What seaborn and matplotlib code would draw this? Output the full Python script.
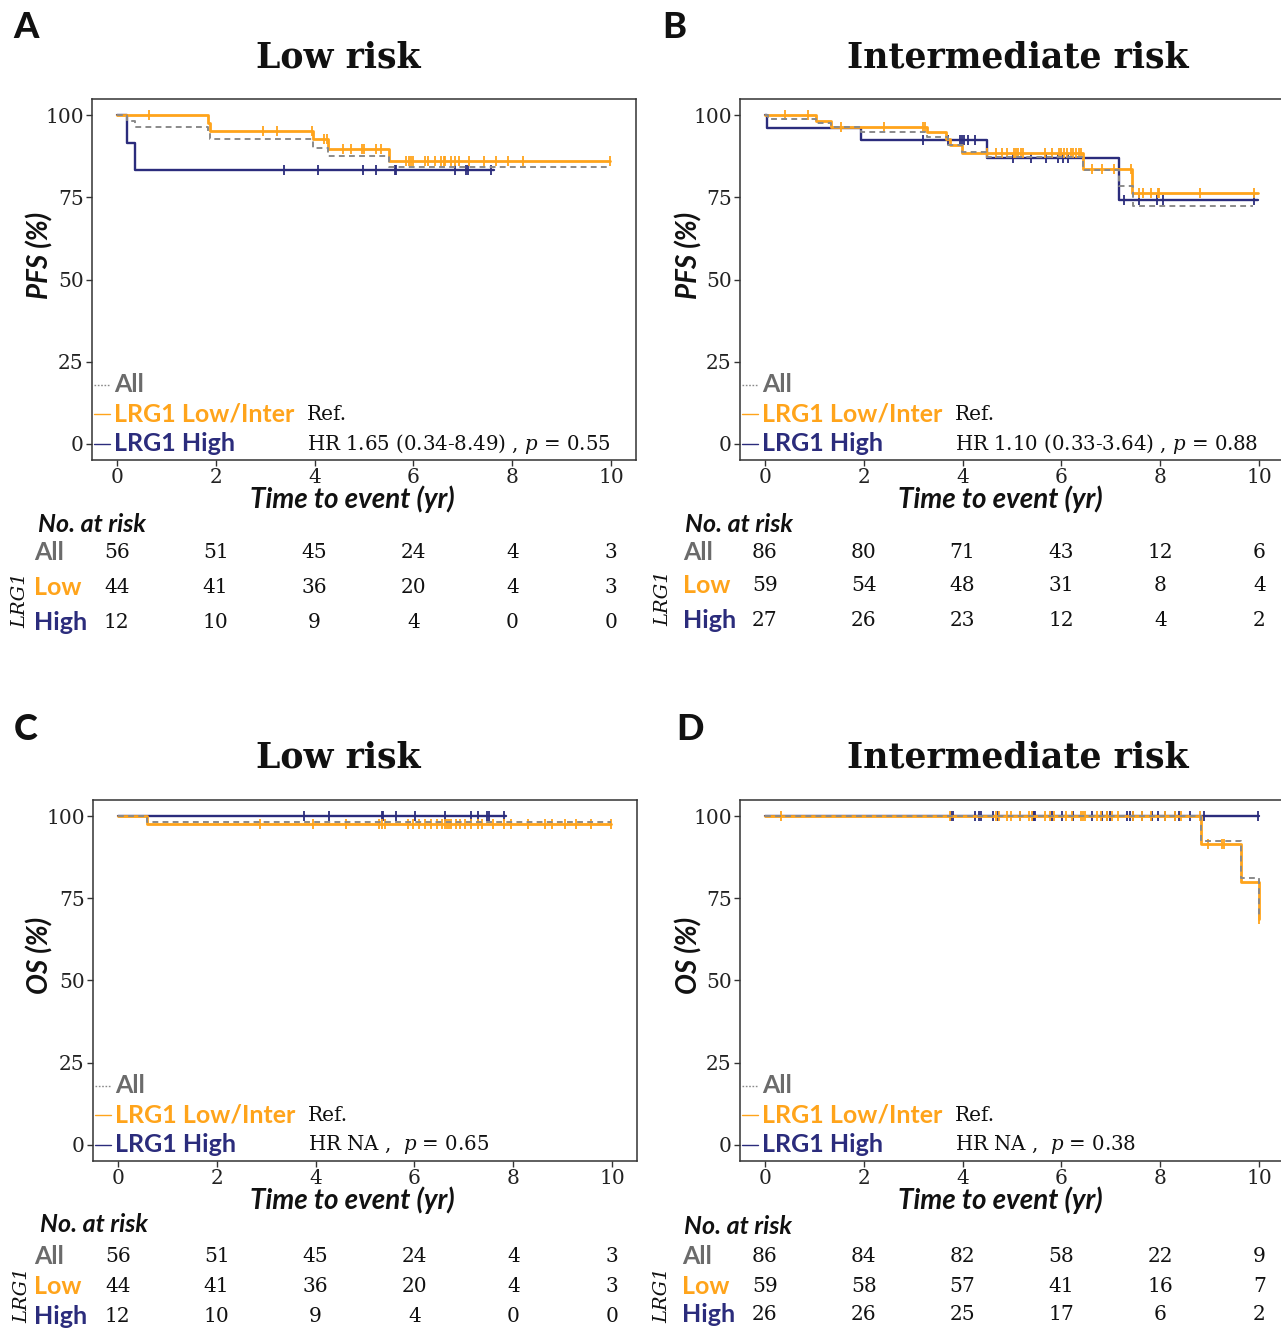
import numpy as np
import matplotlib
matplotlib.use("Agg")
import matplotlib.pyplot as plt
import matplotlib.transforms as mtransforms
import seaborn as sns

sns.set_theme(style="white")
plt.rcParams['font.family'] = ['DejaVu Serif']
plt.rcParams['mathtext.fontset'] = 'custom'
plt.rcParams['mathtext.rm'] = 'DejaVu Serif'
plt.rcParams['mathtext.it'] = 'DejaVu Serif:italic'

ORANGE = "#FFA41B"
NAVY = "#2B2C7C"
GRAY = "#8A8A8A"
GRAY_TXT = "#6B6B6B"
SANS = "Lato"
W, H = 1281, 1328

# ---------------- data ----------------
# A: PFS, low risk
a_all_t = [0, 0.20, 0.37, 1.85, 1.89, 3.96, 4.28, 5.50, 10.0]
a_all_s = [100, 98.2, 96.4, 94.6, 92.7, 90.2, 87.7, 84.3, 84.3]
a_low_t = [0, 1.85, 1.89, 3.96, 4.28, 5.50, 9.98]
a_low_s = [100, 97.7, 95.4, 92.8, 89.8, 86.0, 86.0]
a_high_t = [0, 0.20, 0.37, 7.62]
a_high_s = [100, 91.7, 83.3, 83.3]
a_low_cens = [0.66, 2.95, 3.24, 3.94, 4.20, 4.25, 4.58, 4.73, 4.95, 5.00, 5.25, 5.35,
              5.85, 5.91, 5.96, 6.00, 6.23, 6.29, 6.44, 6.56, 6.61, 6.63, 6.76, 6.85,
              6.93, 7.12, 7.42, 7.67, 7.92, 8.21, 9.98]
a_high_cens = [3.38, 4.06, 4.97, 5.25, 5.62, 5.64, 6.85, 7.07, 7.10, 7.57]

# B: PFS, intermediate risk
b_all_t = [0, 0.06, 1.04, 1.35, 1.95, 3.28, 3.70, 3.98, 4.49, 6.44, 7.16, 7.45, 9.88]
b_all_s = [100, 98.8, 97.7, 96.5, 94.8, 93.4, 90.9, 88.9, 87.4, 83.3, 78.5, 72.5, 72.5]
b_low_t = [0, 1.04, 1.35, 3.28, 3.67, 3.74, 3.98, 6.44, 7.42, 9.98]
b_low_s = [100, 98.3, 96.6, 94.8, 92.8, 90.9, 88.6, 83.8, 76.4, 76.4]
b_high_t = [0, 0.05, 1.95, 4.49, 7.16, 9.98]
b_high_s = [100, 96.3, 92.6, 87.0, 74.3, 74.3]
b_low_cens = [0.41, 0.88, 1.54, 2.42, 3.21, 3.25, 4.49, 4.68, 4.79, 4.89, 5.04, 5.08,
              5.13, 5.19, 5.23, 5.67, 5.81, 5.96, 6.00, 6.05, 6.12, 6.19, 6.24, 6.30,
              6.35, 6.40, 6.61, 6.82, 7.07, 7.40, 7.56, 7.64, 7.81, 7.95, 7.98, 8.81, 9.89]
b_high_cens = [3.21, 3.70, 3.95, 3.98, 4.02, 4.12, 4.25, 5.02, 5.39, 5.68, 5.93, 6.03,
               6.14, 7.26, 7.56, 7.93, 8.06, 9.89]

# C: OS, low risk
c_all_t = [0, 0.60, 9.98]
c_all_s = [100, 98.2, 98.2]
c_low_t = [0, 0.60, 9.98]
c_low_s = [100, 97.7, 97.7]
c_high_t = [0, 7.85]
c_high_s = [100, 100]
c_low_cens = [2.88, 3.95, 4.61, 5.29, 5.35, 5.41, 5.87, 5.98, 6.09, 6.21, 6.34, 6.46,
              6.56, 6.62, 6.66, 6.69, 6.73, 6.83, 6.93, 7.03, 7.14, 7.28, 7.36, 7.59,
              7.81, 7.95, 8.30, 8.63, 8.79, 9.04, 9.27, 9.56, 9.98]
c_high_cens = [3.77, 4.28, 5.34, 5.36, 5.63, 6.02, 6.61, 7.14, 7.28, 7.47, 7.51, 7.81]

# D: OS, intermediate risk
d_all_t = [0, 8.82, 9.64, 10.0]
d_all_s = [100, 92.4, 81.3, 70.0]
d_low_t = [0, 8.82, 9.64, 10.0]
d_low_s = [100, 91.6, 80.0, 68.8]
d_high_t = [0, 9.99]
d_high_s = [100, 100]
d_low_cens = [0.32, 3.74, 4.68, 4.74, 4.89, 4.98, 5.16, 5.35, 5.40, 5.67, 5.77, 5.84,
              6.09, 6.21, 6.40, 6.44, 6.47, 6.72, 6.79, 6.93, 7.03, 7.14, 7.45, 7.63,
              7.81, 8.09, 8.30, 8.42, 8.81, 8.96, 9.24, 9.29, 10.0]
d_high_cens = [3.77, 3.81, 4.26, 4.33, 4.37, 4.61, 4.72, 5.16, 5.42, 5.44, 5.47, 5.81,
               6.02, 6.23, 6.61, 6.82, 6.93, 6.98, 7.33, 7.38, 7.45, 7.63, 7.83, 7.95,
               8.09, 8.30, 8.37, 8.60, 8.88, 9.98]

risk_times = [0, 2, 4, 6, 8, 10]
a_risk_all = [56, 51, 45, 24, 4, 3]
a_risk_low = [44, 41, 36, 20, 4, 3]
a_risk_high = [12, 10, 9, 4, 0, 0]
b_risk_all = [86, 80, 71, 43, 12, 6]
b_risk_low = [59, 54, 48, 31, 8, 4]
b_risk_high = [27, 26, 23, 12, 4, 2]
c_risk_all = [56, 51, 45, 24, 4, 3]
c_risk_low = [44, 41, 36, 20, 4, 3]
c_risk_high = [12, 10, 9, 4, 0, 0]
d_risk_all = [86, 84, 82, 58, 22, 9]
d_risk_low = [59, 58, 57, 41, 16, 7]
d_risk_high = [26, 26, 25, 17, 6, 2]

a_hr = "HR 1.65 (0.34-8.49) , $\\it{p}$ = 0.55"
b_hr = "HR 1.10 (0.33-3.64) , $\\it{p}$ = 0.88"
c_hr = "HR NA ,  $\\it{p}$ = 0.65"
d_hr = "HR NA ,  $\\it{p}$ = 0.38"

fig = plt.figure(figsize=(W / 100, H / 100), dpi=100)


def fy(y):
    return 1 - y / H


def step_value(t, s, x):
    idx = np.searchsorted(np.asarray(t), x, side="right") - 1
    return np.asarray(s)[np.clip(idx, 0, len(s) - 1)]


def draw_panel(box, letter, title, ylab, curves, hr, risk, lay):
    left, top, right, bottom = box
    ax = fig.add_axes([left / W, 1 - bottom / H, (right - left) / W, (bottom - top) / H])
    (all_t, all_s), (lo_t, lo_s, lo_c), (hi_t, hi_s, hi_c) = curves

    sns.lineplot(x=hi_t, y=hi_s, drawstyle="steps-post", estimator=None, sort=False,
                 color=NAVY, linewidth=1.7, ax=ax)
    ax.plot(hi_c, step_value(hi_t, hi_s, hi_c), ls="none", marker="|", ms=7.5,
            mew=1.3, color=NAVY)
    sns.lineplot(x=lo_t, y=lo_s, drawstyle="steps-post", estimator=None, sort=False,
                 color=ORANGE, linewidth=2.0, ax=ax)
    ax.plot(lo_c, step_value(lo_t, lo_s, lo_c), ls="none", marker="|", ms=7.5,
            mew=1.3, color=ORANGE)
    sns.lineplot(x=all_t, y=all_s, drawstyle="steps-post", estimator=None, sort=False,
                 color=GRAY, linewidth=1.4, linestyle=(0, (3, 2.2)), ax=ax)

    ax.set_xlim(-0.5, 10.5)
    ax.set_ylim(-5, 105)
    ax.set_xticks([0, 2, 4, 6, 8, 10])
    ax.set_yticks([0, 25, 50, 75, 100])
    ax.tick_params(axis="both", direction="out", length=4, width=1, color="#333333",
                   labelsize=14.5, pad=2, labelcolor="#222222")
    ax.tick_params(axis="both", which="both", bottom=True, left=True)
    for sp in ax.spines.values():
        sp.set_color("#333333")
        sp.set_linewidth(1.1)
    ax.set_xlabel("")
    ax.set_ylabel("")

    # legend-like annotations
    keys = [(18, "All", GRAY_TXT, GRAY, (0, (1.2, 1.2))),
            (9, "LRG1 Low/Inter", ORANGE, ORANGE, "-"),
            (0, "LRG1 High", NAVY, NAVY, "-")]
    for yv, lab, tc, lc, ls in keys:
        ax.plot([-0.45, -0.13], [yv, yv], color=lc, lw=1.0, ls=ls, clip_on=False)
        ax.text(-0.06, yv, lab, color=tc, fontsize=18, fontweight="bold",
                family=SANS, va="center", ha="left")
    ax.text(3.85, 9, "Ref.", fontsize=14.5, color="#111111", va="center", ha="left")
    ax.text(3.85, 0, hr, fontsize=14.2, color="#111111", va="center", ha="left")

    # panel letter, title, axis labels
    fig.text(lay["letter"][0] / W, fy(lay["letter"][1]), letter, fontsize=26,
             fontweight="black", family=SANS, ha="center", va="center", color="#111111")
    fig.text(lay["title"][0] / W, fy(lay["title"][1]), title, fontsize=25,
             fontweight="bold", ha="center", va="center", color="#111111")
    fig.text(lay["ylab"][0] / W, fy(lay["ylab"][1]), ylab, fontsize=20, rotation=90,
             fontweight="bold", style="italic", family=SANS, ha="center", va="center",
             color="#111111")
    fig.text(lay["xlab"][0] / W, fy(lay["xlab"][1]), "Time to event (yr)", fontsize=20,
             fontweight="bold", style="italic", family=SANS, ha="center", va="center",
             color="#111111")

    # risk table
    fig.text(lay["nar"][0] / W, fy(lay["nar"][1]), "No. at risk", fontsize=18,
             fontweight="bold", style="italic", family=SANS, ha="left", va="center",
             color="#111111")
    trans = mtransforms.blended_transform_factory(ax.transData, fig.transFigure)
    row_names = [("All", GRAY_TXT), ("Low", ORANGE), ("High", NAVY)]
    for (name, col), yrow, vals in zip(row_names, lay["rows"], risk):
        fig.text(lay["rowx"] / W, fy(yrow), name, fontsize=18, fontweight="bold",
                 family=SANS, color=col, ha="left", va="center")
        for tt, v in zip(risk_times, vals):
            fig.text(tt, fy(yrow), str(v), transform=trans, fontsize=14.5,
                     ha="center", va="center", color="#111111")
    fig.text(lay["lrg"][0] / W, fy(lay["lrg"][1]), "LRG1", fontsize=14, style="italic",
             rotation=90, ha="center", va="center", color="#111111")
    return ax


draw_panel((92, 99, 636, 460), "A", "Low risk", "PFS (%)",
           [(a_all_t, a_all_s), (a_low_t, a_low_s, a_low_cens),
            (a_high_t, a_high_s, a_high_cens)], a_hr,
           [a_risk_all, a_risk_low, a_risk_high],
           dict(letter=(26, 28), title=(338, 57), ylab=(40, 255), xlab=(352, 499),
                nar=(38, 524), rowx=34, rows=(553, 587, 623), lrg=(20, 600)))

draw_panel((740, 99, 1284, 460), "B", "Intermediate risk", "PFS (%)",
           [(b_all_t, b_all_s), (b_low_t, b_low_s, b_low_cens),
            (b_high_t, b_high_s, b_high_cens)], b_hr,
           [b_risk_all, b_risk_low, b_risk_high],
           dict(letter=(674, 28), title=(1018, 57), ylab=(689, 255), xlab=(1000, 499),
                nar=(685, 525), rowx=683, rows=(553, 586, 621), lrg=(663, 598)))

draw_panel((93, 800, 637, 1161), "C", "Low risk", "OS (%)",
           [(c_all_t, c_all_s), (c_low_t, c_low_s, c_low_cens),
            (c_high_t, c_high_s, c_high_cens)], c_hr,
           [c_risk_all, c_risk_low, c_risk_high],
           dict(letter=(26, 730), title=(338, 757), ylab=(40, 955), xlab=(352, 1200),
                nar=(40, 1225), rowx=34, rows=(1256, 1287, 1316), lrg=(22, 1295)))

draw_panel((740, 800, 1284, 1161), "D", "Intermediate risk", "OS (%)",
           [(d_all_t, d_all_s), (d_low_t, d_low_s, d_low_cens),
            (d_high_t, d_high_s, d_high_cens)], d_hr,
           [d_risk_all, d_risk_low, d_risk_high],
           dict(letter=(690, 730), title=(1018, 757), ylab=(689, 955), xlab=(1000, 1200),
                nar=(684, 1226), rowx=682, rows=(1256, 1286, 1314), lrg=(662, 1295)))

fig.savefig("out.png", dpi=100, facecolor="white")
